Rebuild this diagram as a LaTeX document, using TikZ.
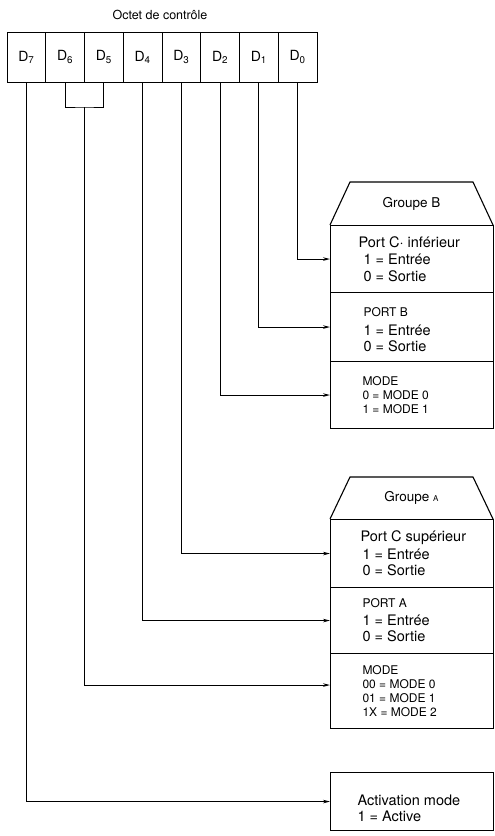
\documentclass[tikz,border=0pt]{standalone}
\usepackage{fontspec}
\setmainfont{TeX Gyre Heros}
\usetikzlibrary{positioning,arrows.meta}
\newcommand{\grand}{\fontsize{14.5}{16.5}\selectfont}
\newcommand{\petit}{\fontsize{12}{14}\selectfont}
\tikzset{
  cell/.style={draw, minimum width=38.75pt, minimum height=50pt, inner sep=0pt, font=\fontsize{14}{16}\selectfont},
  section/.style={draw, line width=1.1pt, minimum width=163pt, anchor=north west, inner sep=0pt},
  txt/.style={align=left, inner sep=0pt, font=\grand},
  entete/.style={font=\fontsize{13.5}{15}\selectfont},
}
\begin{document}
\begin{tikzpicture}[x=1pt, y=-1pt, >={Stealth[length=7pt,width=3.5pt]}, line width=1pt]
\useasboundingbox (0,0) rectangle (495,836);

% octet de controle
\node[font=\fontsize{12.5}{14}\selectfont] (titre) at (160,15) {Octet de contrôle};
\foreach \i in {0,...,7}
  \node[cell] (d\i) at ({26.4+38.75*(7-\i)},57) {D\textsubscript{\i}};

% groupe B
\draw[line width=1.1pt] (330,225) -- (350,182) -- (473,182) -- (493,225);
\node[entete] (grB) at (411.5,204) {Groupe B};
\node[section, minimum height=67pt] (pcb) at (330,225) {};
\node[section, minimum height=69pt] (portB) at (330,292) {};
\node[section, minimum height=67pt] (modeB) at (330,361) {};
\node[txt, right=33pt of pcb.west] (tpcb) {\hspace*{-5pt}Port C· inférieur\\[1pt] 1 = Entrée\\ 0 = Sortie};
\node[txt, right=33pt of portB.west, yshift=-3pt] (tportB) {{\petit PORT B}\\[2pt] 1 = Entrée\\ 0 = Sortie};
\node[txt, right=32pt of modeB.west, font=\petit] (tmodeB) {MODE\\ 0 = MODE 0\\ 1 = MODE 1};

% groupe A
\draw[line width=1.1pt] (330,519) -- (350,477) -- (473,477) -- (493,519);
\node[entete] (grA) at (411.5,498) {Groupe {\footnotesize A}};
\node[section, minimum height=68pt] (pca) at (330,519) {};
\node[section, minimum height=66pt] (portA) at (330,587) {};
\node[section, minimum height=75pt] (modeA) at (330,653) {};
\node[txt, right=32pt of pca.west] (tpca) {\hspace*{-2pt}Port C supérieur\\[1pt] 1 = Entrée\\ 0 = Sortie};
\node[txt, right=32pt of portA.west] (tportA) {{\petit PORT A}\\[1pt] 1 = Entrée\\ 0 = Sortie};
\node[txt, right=32pt of modeA.west, font=\petit] (tmodeA) {MODE\\ 00 = MODE 0\\ 01 = MODE 1\\ 1X = MODE 2};

% activation
\node[section, minimum height=58pt] (activ) at (330,772) {};
\node[txt, right=27pt of activ.west, yshift=-7pt] (tactiv) {Activation mode\\ 1 = Active};

% liaisons
\draw[->] (d0.south) |- (pcb.west);
\draw[->] (d1.south) |- (portB.west);
\draw[->] (d2.south) |- (modeB.west);
\draw[->] (d3.south) |- (pca.west);
\draw[->] (d4.south) |- (portA.west);
\coordinate (pont) at (84.5,107);
\draw (d6.south) |- (pont) -| (d5.south);
\draw[->] (pont) |- ([yshift=6pt]modeA.west);
\draw[->] (d7.south) |- (activ.west);
\end{tikzpicture}
\end{document}
